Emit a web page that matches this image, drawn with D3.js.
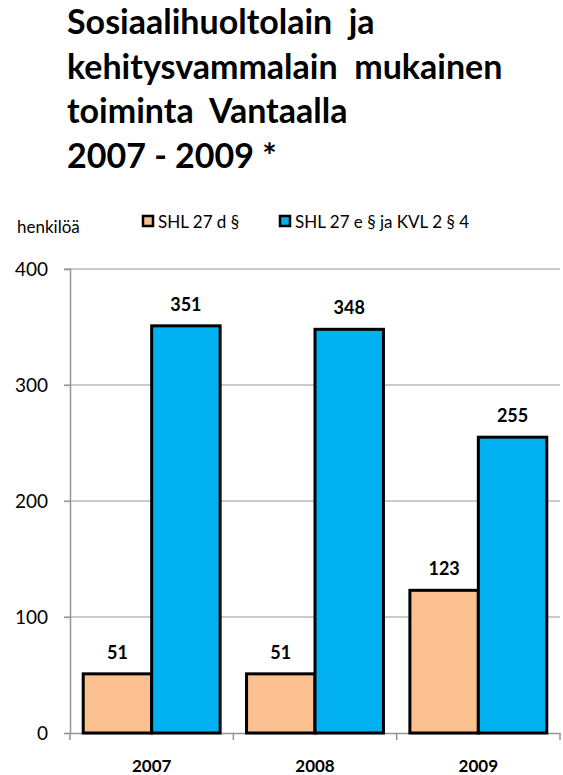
<!DOCTYPE html>
<html><head><meta charset="utf-8">
<script src="https://cdn.jsdelivr.net/npm/d3@7"></script>
<style>body{margin:0;background:#fff;}svg{display:block;} text{white-space:pre;}</style>
</head><body>
<script>
const titleLines = ["Sosiaalihuoltolain  ja", "kehitysvammalain  mukainen", "toiminta  Vantaalla", "2007 - 2009 *"];
const categories = ["2007", "2008", "2009"];
const seriesNames = ["SHL 27 d §", "SHL 27 e § ja KVL 2 § 4"];
const shl27d = [51, 51, 123];
const shl27eKvl = [351, 348, 255];
const yTicks = [0, 100, 200, 300, 400];
const yUnit = "henkilöä";
const colors = ["#FAC090", "#00B0F0"];

(function () {
const W = 563, H = 775;
const svg = d3.select("body").append("svg").attr("width", W).attr("height", H);
const font = "Lato, 'Open Sans', sans-serif";

const pLeft = 70, pRight = 560, pTop = 269, pBottom = 733;
const x = d3.scaleBand().domain(categories).range([pLeft, pRight]).paddingInner(0).paddingOuter(0);
const xs = d3.scaleBand().domain([0, 1]).range([0, x.bandwidth()]).paddingInner(0).paddingOuter(0.193);
const y = d3.scaleLinear().domain([0, 400]).range([pBottom, pTop]);

// title
svg.append("g").selectAll("text").data(titleLines).join("text")
  .attr("x", 67).attr("y", (d, i) => 34 + i * 44.7)
  .attr("font-family", font).attr("font-weight", "bold").attr("font-size", 34)
  .attr("fill", "#000").text(d => d);

// gridlines
svg.append("g").selectAll("line").data(yTicks.filter(t => t > 0)).join("line")
  .attr("x1", pLeft - 6).attr("x2", pRight).attr("y1", d => y(d)).attr("y2", d => y(d))
  .attr("stroke", "#959595").attr("stroke-width", 1.2);

// y axis
const yAxis = svg.append("g").attr("transform", `translate(${pLeft},0)`)
  .call(d3.axisLeft(y).tickValues(yTicks).tickSize(6).tickPadding(16));
yAxis.select(".domain").attr("stroke", "#959595").attr("stroke-width", 1.5);
yAxis.selectAll(".tick line").attr("stroke", "#959595").attr("stroke-width", 1.2);
yAxis.selectAll("text").attr("font-family", font).attr("font-size", 19).attr("fill", "#000");

// x axis
const xAxis = svg.append("g").attr("transform", `translate(0,${pBottom})`)
  .call(d3.axisBottom(x).tickSize(0).tickPadding(27));
xAxis.select(".domain").attr("stroke", "#959595").attr("stroke-width", 1.5);
xAxis.selectAll("text").attr("font-family", font).attr("font-weight", "bold").attr("font-size", 17).attr("fill", "#000");
svg.append("g").selectAll("line").data(categories.concat(["end"])).join("line")
  .attr("x1", (d, i) => pLeft + i * x.bandwidth()).attr("x2", (d, i) => pLeft + i * x.bandwidth())
  .attr("y1", pBottom).attr("y2", pBottom + 7).attr("stroke", "#959595").attr("stroke-width", 1.5);

// bars
const series = [shl27d, shl27eKvl];
const data = [];
categories.forEach((c, ci) => series.forEach((s, si) => data.push({c, si, v: s[ci]})));
svg.append("g").selectAll("rect").data(data).join("rect")
  .attr("x", d => x(d.c) + xs(d.si)).attr("width", xs.bandwidth())
  .attr("y", d => y(d.v)).attr("height", d => y(0) - y(d.v))
  .attr("fill", d => colors[d.si]).attr("stroke", "#000").attr("stroke-width", 3);

svg.append("g").selectAll("text").data(data).join("text")
  .attr("x", d => x(d.c) + xs(d.si) + xs.bandwidth() / 2).attr("y", d => y(d.v) - 15)
  .attr("text-anchor", "middle").attr("font-family", font).attr("font-weight", "bold")
  .attr("font-size", 18).attr("fill", "#000").text(d => d.v);

// unit label
svg.append("text").attr("x", 17).attr("y", 233).attr("font-family", font).attr("font-size", 17).text(yUnit);

// legend
const legX = [143, 280];
const leg = svg.append("g").selectAll("g").data(seriesNames).join("g")
  .attr("transform", (d, i) => `translate(${legX[i]},216)`);
leg.append("rect").attr("width", 10).attr("height", 10).attr("fill", (d, i) => colors[i])
  .attr("stroke", "#000").attr("stroke-width", 2.5);
leg.append("text").attr("x", 15).attr("y", 12).attr("font-family", font).attr("font-size", 17).text(d => d);
})();
</script>
</body></html>
